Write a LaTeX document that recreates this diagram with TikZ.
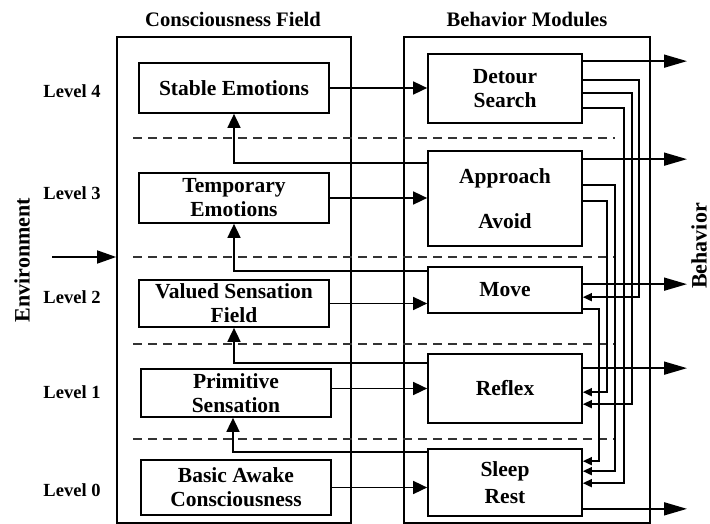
\documentclass[tikz,border=0pt]{standalone}
\usepackage{fontspec}
\setmainfont{Liberation Serif}
\usetikzlibrary{arrows.meta}

\begin{document}
\begin{tikzpicture}[x=1pt, y=-1pt, line width=1.7pt,
        panel/.style={draw, inner sep=0pt},
        cbox/.style={draw, inner sep=0pt, align=center, minimum width=190pt,
            font=\fontsize{21.5}{24}\selectfont\bfseries},
        mbox/.style={draw, inner sep=0pt, align=center, minimum width=154pt,
            font=\fontsize{21.5}{24}\selectfont\bfseries},
        lvl/.style={font=\fontsize{18.5}{20}\selectfont\bfseries},
        ttl/.style={anchor=base, font=\fontsize{20.6}{22}\selectfont\bfseries},
        sep/.style={black!80, line width=1.6pt, dash pattern=on 9pt off 6pt},
        arr/.style={-{Triangle[length=14pt,width=13pt]}, line width=1.6pt},
        outarr/.style={-{Triangle[length=23pt,width=13pt]}, line width=1.6pt},
        fbarr/.style={-{Triangle[length=9pt,width=8pt]}, line width=1.6pt}]
    \useasboundingbox (0,0) rectangle (710,524);
    % the two columns
    \node[panel, minimum width=234pt, minimum height=486pt] (cfield) at (234,280) {};
    \node[panel, minimum width=246pt, minimum height=486pt] (bmod) at (527,280) {};
    \node[ttl] (ctitle) at (233,27) {Consciousness Field};
    \node[ttl] (btitle) at (527,27) {Behavior Modules};
    \foreach \y in {138,257,344,439}
        \draw[sep] (133,\y) -- (615,\y);
    % consciousness levels
    \node[cbox, minimum height=50pt] (stable) at (234,88) {Stable Emotions};
    \node[cbox, minimum height=50pt] (temp) at (234,198) {Temporary\\Emotions};
    \node[cbox, minimum height=47pt] (valued) at (234,303.5) {Valued Sensation\\Field};
    \node[cbox, minimum height=48pt] (prim) at (236,393) {Primitive\\Sensation};
    \node[cbox, minimum height=55pt] (basic) at (236,487.5) {Basic Awake\\Consciousness};
    % behavior modules
    \node[mbox, minimum height=69pt] (detour) at (505,88.5) {Detour\\Search};
    \node[mbox, minimum height=95pt] (approach) at (505,198.5) {Approach\\[21pt]Avoid};
    \node[mbox, minimum height=46pt] (move) at (505,290) {Move};
    \node[mbox, minimum height=69pt] (reflex) at (505,388.5) {Reflex};
    \node[mbox, minimum height=67pt] (sleep) at (505,482.5) {Sleep\\[3pt]Rest};
    % levels
    \node[lvl] (lev4) at (72,91) {Level 4};
    \node[lvl] (lev3) at (72,193) {Level 3};
    \node[lvl] (lev2) at (72,297) {Level 2};
    \node[lvl] (lev1) at (72,392) {Level 1};
    \node[lvl] (lev0) at (72,490) {Level 0};
    \node[rotate=90, font=\fontsize{22}{24}\selectfont\bfseries] (env) at (22,260) {Environment};
    \node[rotate=90, font=\fontsize{22}{24}\selectfont\bfseries] (beh) at (699,246) {Behavior};
    \coordinate (envin) at (52,257);
    \coordinate (behx) at (687,0);
    \draw[arr, -{Triangle[length=19pt,width=13pt]}] (envin) -- (envin -| cfield.west);
    % level -> module
    \draw[arr] (stable.east) -- (stable.east -| detour.west);
    \draw[arr] (temp.east) -- (temp.east -| approach.west);
    \draw[arr] (valued.east) -- (valued.east -| move.west);
    \draw[arr] (reflex.west -| prim.east) -- (reflex.west);
    \draw[arr] (basic.east) -- (basic.east -| sleep.west);
    % module -> upper level
    \draw[arr] ([yshift=-13pt]approach.north west) -| (stable.south);
    \draw[arr] ([yshift=-5pt]move.north west) -| (temp.south);
    \draw[arr] ([yshift=-10pt]reflex.north west) -| (valued.south);
    \draw[arr] ([yshift=-4pt]sleep.north west) -| ([xshift=-3pt]prim.south);
    % module -> lower module
    \draw[fbarr] ([yshift=-27pt]detour.north east) -- ++(56,0) |- ([yshift=-31pt]move.north east);
    \draw[fbarr] ([yshift=-40pt]detour.north east) -- ++(49,0) |- ([yshift=-51pt]reflex.north east);
    \draw[fbarr] ([yshift=-55pt]detour.north east) -- ++(41,0) |- ([yshift=-35pt]sleep.north east);
    \draw[fbarr] ([yshift=-35pt]approach.north east) -- ++(32,0) |- ([yshift=-23pt]sleep.north east);
    \draw[fbarr] ([yshift=-51pt]approach.north east) -- ++(24,0) |- ([yshift=-39pt]reflex.north east);
    \draw[fbarr] ([yshift=-43pt]move.north east) -- ++(16,0) |- ([yshift=-13pt]sleep.north east);
    % behavior out
    \foreach \m/\d in {detour/8, approach/9, move/18, reflex/15}
        \draw[outarr] ([yshift=-\d pt]\m.north east) coordinate (o) -- (o -| behx);
    \draw[outarr] ([yshift=8pt]sleep.south east) coordinate (o) -- (o -| behx);
\end{tikzpicture}
\end{document}
